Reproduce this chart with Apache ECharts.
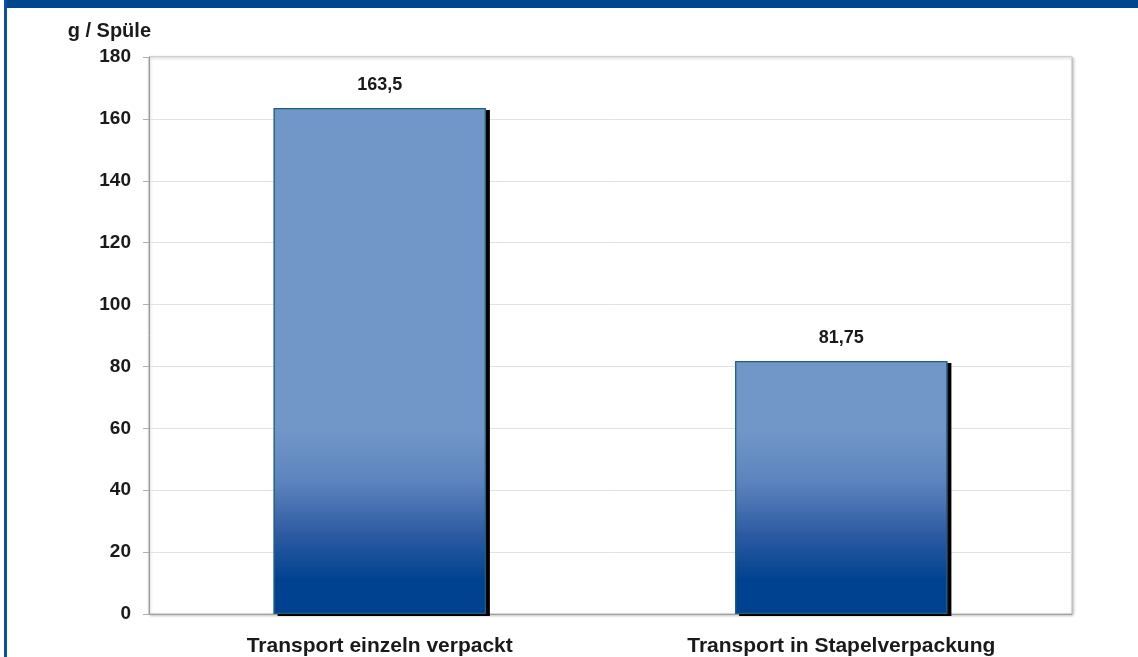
<!DOCTYPE html>
<html>
<head>
<meta charset="utf-8">
<script src="https://cdn.jsdelivr.net/npm/echarts@6/dist/echarts.min.js"></script>
<style>
html,body{margin:0;padding:0;background:#fff;}
#c{width:1138px;height:657px;}
</style>
</head>
<body>
<div id="c"></div>
<script>
var categories = ['Transport einzeln verpackt', 'Transport in Stapelverpackung'];
var values = [163.5, 81.75];
var valueLabels = ['163,5', '81,75'];
var yTicks = { min: 0, max: 180, interval: 20 };
var yName = 'g / Spüle';

var FONT = '"Liberation Sans", Arial, Helvetica, sans-serif';
var chart = echarts.init(document.getElementById('c'), null, { renderer: 'canvas' });

var gradient = new echarts.graphic.LinearGradient(0, 430, 0, 580, [
  { offset: 0, color: '#7197c9' },
  { offset: 0.35, color: '#5c83bd' },
  { offset: 0.7, color: '#2c5aa2' },
  { offset: 1, color: '#00428f' }
], true);

chart.setOption({
  animation: false,
  backgroundColor: '#ffffff',
  graphic: [
    { type: 'rect', left: 4, top: 0, shape: { width: 1134, height: 8 }, style: { fill: '#00468f' }, z: 10 },
    { type: 'rect', left: 4, top: 0, shape: { width: 3, height: 657 }, style: { fill: '#0a4fa0' }, z: 10 }
  ],
  grid: {
    left: 149, right: 66, top: 57, bottom: 43,
    show: true, backgroundColor: '#ffffff',
    borderColor: '#b8b8b8', borderWidth: 1,
    shadowColor: 'rgba(0,0,0,0.25)', shadowBlur: 3, shadowOffsetX: 1, shadowOffsetY: 1
  },
  xAxis: {
    type: 'category',
    data: categories,
    axisLine: { lineStyle: { color: '#a0a0a0', width: 1 } },
    axisTick: { show: false },
    axisLabel: {
      margin: 22, color: '#1a1a1a', fontFamily: FONT, fontWeight: 'bold', fontSize: 21
    }
  },
  yAxis: {
    type: 'value',
    min: yTicks.min, max: yTicks.max, interval: yTicks.interval,
    name: yName,
    nameLocation: 'end',
    nameGap: 26,
    nameTextStyle: {
      color: '#1a1a1a', fontFamily: FONT, fontWeight: 'bold', fontSize: 20,
      align: 'right', verticalAlign: 'middle', padding: [0, -2, 0, 0]
    },
    axisLine: { show: true, lineStyle: { color: '#9a9a9a', width: 1 } },
    axisTick: { show: true, inside: false, length: 6, lineStyle: { color: '#b0b0b0' } },
    splitLine: { lineStyle: { color: '#e2e2e2', width: 1 } },
    axisLabel: {
      margin: 18, color: '#1a1a1a', fontFamily: FONT, fontWeight: 'bold', fontSize: 19
    }
  },
  series: [{
    type: 'bar',
    data: values,
    barWidth: '46%',
    z: 2,
    itemStyle: {
      color: gradient,
      borderWidth: 0,
      shadowColor: 'rgba(0,0,0,1)',
      shadowBlur: 0,
      shadowOffsetX: 4,
      shadowOffsetY: 2
    },
    label: {
      show: true,
      position: 'top',
      distance: 14,
      color: '#1a1a1a',
      fontFamily: FONT,
      fontWeight: 'bold',
      fontSize: 18,
      formatter: function (p) { return valueLabels[p.dataIndex]; }
    }
  }, {
    type: 'bar',
    data: values,
    barWidth: '46%',
    barGap: '-100%',
    z: 3,
    silent: true,
    itemStyle: {
      color: 'rgba(0,0,0,0)',
      borderColor: '#1f5f80',
      borderWidth: 1.2
    }
  }]
});
</script>
</body>
</html>
